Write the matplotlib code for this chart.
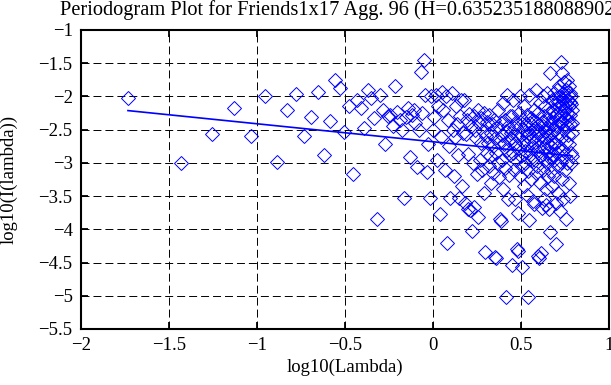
import numpy as np
import matplotlib
matplotlib.use("Agg")
import matplotlib.pyplot as plt

# ---- data ----
title_text = "Periodogram Plot for Friends1x17 Agg. 96 (H=0.635235188088902)"
hurst = 0.635235188088902
n_samples = 340
freq_index = np.arange(1, 336)          # k = 1..335
log_periodogram = [
    # k 1-16
    -2.03, -3.00, -2.56, -2.17, -2.59, -1.99, -2.99, -2.20, -1.96, -2.59,
    -2.31, -1.93, -2.88, -2.37, -1.75, -1.88,
    # k 17-30
    -2.53, -2.15, -3.17, -2.05, -2.18, -2.48, -1.90, -2.02, -2.33, -3.84,
    -1.98, -2.20, -2.71, -2.30,
    # k 31-53
    -2.28, -2.45, -1.85, -2.23, -2.36, -2.51, -3.53, -2.31, -2.18, -2.91,
    -2.28, -2.20, -2.40, -3.06, -2.51, -1.63, -2.25, -1.45, -1.98, -3.13,
    -2.71, -3.53, -2.00,
    # k 54-80
    -2.51, -2.31, -1.98, -2.95, -2.15, -3.77, -2.61, -1.93, -2.20, -3.10,
    -2.00, -4.20, -2.36, -2.75, -3.53, -1.95, -2.51, -3.20, -2.61, -2.15,
    -2.42, -2.88, -3.53, -2.30, -2.05, -3.35, -2.55,
    # k 81-110
    -2.05, -3.61, -2.56, -2.36, -3.69, -2.86, -2.27, -3.71, -2.45, -4.02,
    -3.00, -2.30, -3.66, -2.50, -2.62, -3.16, -2.20, -3.81, -2.40, -2.95,
    -2.33, -2.70, -3.10, -2.52, -2.25, -3.45, -4.34, -2.60, -2.85, -2.38,
    # k 111-150
    -2.70, -3.05, -2.28, -2.90, -2.55, -3.30, -2.42, -2.75, -3.15, -2.35,
    -2.62, -4.41, -2.85, -4.43, -2.48, -3.00, -2.20, -2.68, -3.22, -3.85,
    -2.40, -3.88, -2.95, -2.58, -2.10, -3.40, -2.72, -2.35, -3.08, -5.02,
    -2.52, -2.80, -1.98, -3.55, -2.45, -2.65, -3.18, -2.30, -2.88, -2.55,
    # k 151-200
    -2.62, -4.54, -2.30, -2.85, -2.05, -3.10, -2.48, -2.70, -3.55, -2.38,
    -2.95, -2.60, -4.30, -3.76, -4.33, -2.25, -2.78, -3.20, -2.45, -2.00,
    -2.90, -2.58, -4.56, -3.05, -2.35, -2.68, -3.35, -2.50, -2.15, -2.82,
    -3.00, -2.42, -2.72, -3.48, -2.28, -2.60, -3.12, -5.02, -3.86, -2.55,
    -1.98, -2.88, -2.40, -3.25, -2.65, -2.32, -2.95, -2.78, -3.58, -2.50,
    # k 201-260
    -2.35, -3.62, -2.70, -2.20, -2.95, -2.48, -3.15, -2.60, -1.90, -2.82,
    -2.40, -3.05, -2.55, -2.25, -4.40, -2.75, -4.43, -2.50, -3.30, -2.10,
    -2.65, -4.36, -2.90, -2.38, -3.68, -2.58, -2.00, -3.10, -2.45, -2.78,
    -3.55, -2.30, -2.62, -2.95, -2.15, -3.40, -2.52, -3.64, -2.70, -2.35,
    -3.00, -1.95, -2.85, -2.48, -3.20, -2.60, -2.25, -3.70, -2.92, -4.04,
    -1.65, -2.40, -2.75, -3.12, -2.55, -2.05, -2.88, -3.35, -2.32, -2.68,
    # k 261-335
    -2.20, -2.95, -1.95, -2.50, -3.20, -2.10, -2.70, -2.30, -3.60, -2.02,
    -4.22, -2.45, -2.85, -1.90, -2.25, -3.05, -2.55, -2.08, -3.45, -2.35,
    -1.85, -2.75, -2.15, -3.72, -2.40, -2.00, -2.98, -2.28, -1.48, -2.62,
    -1.65, -2.12, -3.25, -2.38, -1.95, -2.80, -2.05, -3.55, -2.22, -2.50,
    -1.78, -2.90, -2.18, -2.02, -3.10, -2.32, -1.90, -2.68, -2.10, -3.84,
    -2.45, -1.75, -2.25, -3.00, -2.05, -2.58, -1.98, -2.35, -3.30, -2.15,
    -1.85, -2.72, -2.08, -2.42, -3.50, -1.95, -2.28, -2.85, -2.12, -3.00,
    -2.00, -2.55, -2.20, -2.40, -2.90,
]
fit_intercept = -2.682
fit_slope = 1 - 2 * hurst

x_ticks = [-2, -1.5, -1, -0.5, 0, 0.5, 1]
y_ticks = [-5.5, -5, -4.5, -4, -3.5, -3, -2.5, -2, -1.5, -1]

# ---- plot ----
plt.rcParams['font.family'] = ['Liberation Serif', 'DejaVu Serif']
plt.rcParams['axes.unicode_minus'] = True

fig = plt.figure(figsize=(6.11, 3.85), dpi=100)
ax = fig.add_axes([0.1326, 0.1455, 0.9967 - 0.1326, 0.9221 - 0.1455])

log_lambda = np.log10(2 * np.pi * freq_index / n_samples)
ax.plot(log_lambda, log_periodogram, linestyle='none', marker='D',
        markersize=7.3, markerfacecolor='none', markeredgecolor=(0, 0, 1),
        markeredgewidth=0.7, zorder=3)

line_x = np.array([log_lambda[0], log_lambda[-1]])
ax.plot(line_x, fit_intercept + fit_slope * line_x, color=(0, 0, 1), lw=1.2, zorder=4)

ax.set_xlim(-2, 1)
ax.set_ylim(-5.5, -1)
ax.set_xticks(x_ticks)
ax.set_yticks(y_ticks)
ax.set_xticklabels([f"{t:g}".replace('-', '\u2212') for t in x_ticks])
ax.set_yticklabels([f"{t:g}".replace('-', '\u2212') for t in y_ticks])
ax.grid(True, color='black', linestyle=(0, (8.2, 4.1)), linewidth=0.7)
ax.tick_params(direction='in', length=5, width=1.3, top=True, right=True,
               labelsize=13.5, pad=6, colors='black')
for sp in ax.spines.values():
    sp.set_linewidth(1.5)

ax.set_xlabel("log10(Lambda)", fontsize=13.5, labelpad=3)
ax.set_ylabel("log10(I(lambda))", fontsize=13.5)
ax.yaxis.set_label_coords(-0.12, 0.5)
title = ax.set_title(title_text, fontsize=14.7, loc='left', pad=10.5)
title.set_x((60 - 81) / 528)

fig.savefig("out.png", dpi=100)
